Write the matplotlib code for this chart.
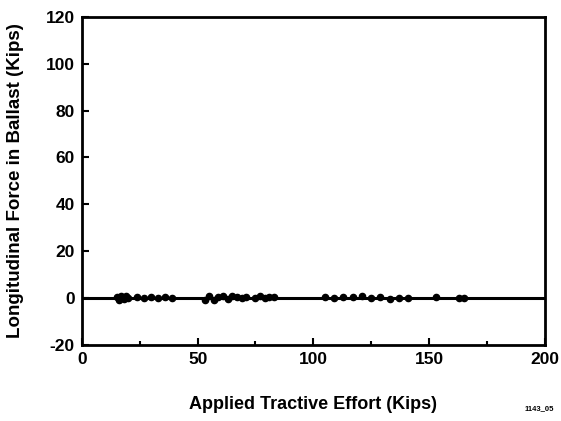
import matplotlib
matplotlib.use("Agg")
import matplotlib.pyplot as plt
from matplotlib.ticker import MultipleLocator

plt.rcParams['font.family'] = ['Liberation Sans', 'DejaVu Sans']
plt.rcParams['font.weight'] = 'bold'
plt.rcParams['axes.unicode_minus'] = False

effort = [15, 16, 17, 18, 19, 20,
          24, 27, 30, 33, 36, 39,
          53, 55, 57, 59, 61, 63, 65, 67, 69, 71,
          75, 77, 79, 81, 83,
          105, 109, 113, 117, 121, 125, 129, 133, 137, 141,
          153, 163, 165]
force = [0.5, -1.0, 1.0, -0.5, 0.8, 0.0,
         0.3, 0.0, 0.4, 0.0, 0.5, 0.0,
         -0.8, 0.8, -1.0, 0.5, 1.0, -0.5, 0.8, 0.3, 0.0, 0.5,
         0.0, 0.8, 0.0, 0.5, 0.3,
         0.3, 0.0, 0.3, 0.3, 0.8, 0.0, 0.5, -0.3, 0.0, 0.0,
         0.5, 0.0, 0.0]

fig = plt.figure(figsize=(5.61, 4.21), dpi=100)
ax = fig.add_axes([0.146, 0.181, 0.825, 0.779])
ax.axhline(0, color='black', lw=2.2, zorder=1)
ax.scatter(effort, force, s=20, color='black', zorder=2)
ax.set_xlim(0, 200)
ax.set_ylim(-20, 120)
ax.xaxis.set_major_locator(MultipleLocator(50))
ax.xaxis.set_minor_locator(MultipleLocator(25))
ax.yaxis.set_major_locator(MultipleLocator(20))
ax.tick_params(axis='both', which='major', direction='in', length=5, width=1.5, labelsize=12.5, pad=5)
ax.tick_params(axis='both', which='minor', direction='in', length=3, width=1.5)
ax.tick_params(top=False, right=False)
for sp in ax.spines.values():
    sp.set_linewidth(2)
for lab in ax.get_xticklabels() + ax.get_yticklabels():
    lab.set_fontweight('bold')
ax.set_xlabel('Applied Tractive Effort (Kips)', fontsize=13, fontweight='bold', labelpad=21)
ax.set_ylabel('Longitudinal Force in Ballast (Kips)', fontsize=13.5, fontweight='bold', labelpad=16)
fig.text(0.962, 0.03, '1143_05', fontsize=5.5, fontweight='bold', ha='center', va='center')
fig.savefig('out.png', dpi=100)
